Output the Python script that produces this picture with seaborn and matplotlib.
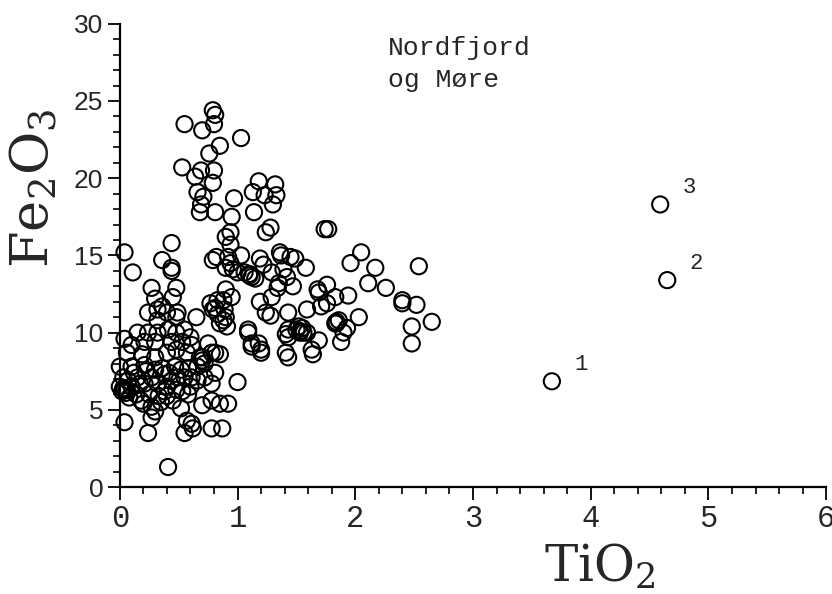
import matplotlib
matplotlib.use("Agg")
import matplotlib.pyplot as plt
import seaborn as sns
from matplotlib.ticker import MultipleLocator

# TiO2 / Fe2O3 values (wt %)
upper_tio2 = [0.79, 0.81, 0.55, 0.70, 0.80, 1.03, 0.85, 0.76, 0.53, 0.64, 0.69, 0.80,
              0.79, 0.66, 0.71, 0.69, 0.81, 0.68, 0.97, 1.18, 1.32, 1.13, 1.23, 1.33,
              1.30, 1.14, 0.95, 0.94, 1.28, 1.24, 1.74, 1.77]
upper_fe2o3 = [24.4, 24.1, 23.5, 23.1, 23.5, 22.6, 22.1, 21.6, 20.7, 20.1, 20.5, 20.5,
               19.7, 19.1, 18.8, 18.3, 17.8, 17.8, 18.7, 19.8, 19.6, 19.1, 18.9, 18.9,
               18.3, 17.8, 17.5, 16.5, 16.8, 16.5, 16.7, 16.7]

mid_tio2 = [2.05, 1.96, 2.54, 2.17, 2.11, 2.26, 2.40, 2.40, 2.52, 2.65, 2.48, 2.48,
            0.90, 0.94, 1.37, 1.45, 1.49, 1.58, 1.19, 1.22, 1.03, 0.96, 1.00, 1.06,
            1.12, 1.15, 1.29, 1.39, 1.42, 1.35, 0.90, 0.90, 0.95, 0.88, 0.90, 0.85,
            1.19, 1.29, 1.24, 1.28, 1.43, 1.59, 1.69, 1.76, 1.71, 1.83, 1.94, 2.03,
            1.83, 1.86, 1.93, 1.90, 1.88, 1.76, 1.09, 1.12, 1.18, 1.20, 1.43, 1.50,
            1.56, 1.59, 1.69, 1.43, 1.63, 1.41, 1.53, 1.53, 1.84, 1.84, 1.10, 1.10,
            1.52, 1.41, 1.64, 1.43, 1.68, 1.36, 1.12, 1.20, 1.09, 1.55, 1.34, 1.47]
mid_fe2o3 = [15.2, 14.5, 14.3, 14.2, 13.2, 12.9, 12.1, 11.9, 11.8, 10.7, 10.4, 9.3,
             16.2, 15.7, 15.0, 14.9, 14.8, 14.2, 14.8, 14.4, 15.0, 14.1, 13.9, 13.9,
             13.6, 13.5, 13.9, 14.1, 13.6, 13.2, 14.2, 12.8, 12.3, 12.1, 11.0, 10.6,
             12.0, 12.3, 11.3, 11.1, 11.3, 11.5, 12.6, 13.1, 11.7, 12.3, 12.4, 11.0,
             10.6, 10.8, 10.3, 10.0, 9.4, 11.9, 10.0, 9.3, 9.3, 8.9, 10.2, 10.2,
             10.0, 10.0, 9.5, 9.7, 8.9, 8.7, 10.0, 10.1, 10.7, 10.6, 13.7, 13.8,
             10.4, 9.9, 8.6, 8.4, 12.8, 15.2, 9.1, 8.7, 10.2, 10.3, 12.9, 13.0]

low_tio2 = [0.04, 0.11, 0.44, 0.36, 0.44, 0.44, 0.27, 0.48, 0.30, 0.45, 0.24, 0.32,
            0.36, 0.40, 0.49, 0.65, 0.48, 0.32, 0.77, 0.81, 0.83, 0.83, 0.89, 0.79,
            0.88, 0.91, 0.82, 0.79, 0.92, 0.94,
            0.04, 0.15, 0.24, 0.32, 0.41, 0.48, 0.55, 0.60, 0.10, 0.21, 0.30, 0.44,
            0.53, 0.61, 0.48, 0.40, 0.57, 0.06, 0.19, 0.30, 0.70, 0.78, 0.85, 0.00,
            0.10, 0.21, 0.36, 0.47, 0.58, 0.66, 0.03, 0.15, 0.27, 0.38, 0.49, 0.61,
            0.72, 0.81, 0.75, 0.81, 0.68, 0.70, 0.72,
            0.78, 1.00, 0.04, 0.00, 0.02, 0.05, 0.10, 0.21, 0.32, 0.44, 0.55, 0.53,
            0.58, 0.70, 0.78, 0.85, 0.92, 0.45, 0.20, 0.27, 0.30, 0.27, 0.04, 0.57,
            0.61, 0.62, 0.55, 0.78, 0.87, 0.24, 0.41,
            0.08, 0.14, 0.18, 0.25, 0.33, 0.38, 0.12, 0.22, 0.30, 0.42, 0.52, 0.07,
            0.17, 0.40, 0.48, 0.35, 0.60, 0.66, 0.52, 0.40, 0.03, 0.06]
low_fe2o3 = [15.2, 13.9, 15.8, 14.7, 14.2, 14.0, 12.9, 12.9, 12.2, 12.3, 11.3, 11.5,
             11.7, 11.3, 11.3, 11.0, 11.0, 10.8, 11.9, 11.6, 11.2, 12.1, 11.5, 11.5,
             10.8, 10.4, 14.9, 14.7, 14.9, 14.5,
             9.6, 10.0, 10.0, 10.0, 10.2, 10.0, 10.2, 9.7, 9.2, 9.4, 9.4, 9.4,
             9.4, 9.2, 8.9, 8.7, 8.7, 8.7, 8.6, 8.4, 8.4, 8.7, 8.6, 7.8,
             7.8, 7.9, 7.7, 7.8, 7.7, 7.8, 7.1, 7.1, 7.1, 7.3, 7.1, 7.1,
             7.1, 7.4, 9.3, 8.7, 8.4, 8.2, 8.0,
             6.7, 6.8, 6.3, 6.5, 6.2, 6.1, 6.5, 6.7, 6.7, 6.9, 7.1, 6.2,
             6.0, 5.3, 5.6, 5.4, 5.4, 5.6, 5.4, 5.2, 4.9, 4.5, 4.2, 4.3,
             4.1, 3.8, 3.5, 3.8, 3.8, 3.5, 1.3,
             5.8, 6.0, 5.6, 6.0, 5.9, 6.2, 7.4, 7.5, 7.6, 7.4, 7.6, 6.9,
             6.7, 6.5, 6.3, 5.5, 6.5, 6.9, 5.1, 5.9, 6.4, 6.3]

# numbered outliers
out_tio2 = [3.67, 4.65, 4.59]
out_fe2o3 = [6.85, 13.4, 18.3]
out_labels = ["1", "2", "3"]

tio2 = upper_tio2 + mid_tio2 + low_tio2 + out_tio2
fe2o3 = upper_fe2o3 + mid_fe2o3 + low_fe2o3 + out_fe2o3

sns.set_style("ticks")
plt.rcParams["mathtext.fontset"] = "dejavuserif"
plt.rcParams["mathtext.default"] = "rm"

fig, ax = plt.subplots(figsize=(8.32, 5.94), dpi=100)
fig.subplots_adjust(left=0.144, right=0.993, bottom=0.180, top=0.960)

sns.scatterplot(x=tio2, y=fe2o3, ax=ax, marker="o", s=135,
                facecolors="none", edgecolor="black", linewidth=1.5,
                clip_on=False, zorder=3)

for xv, yv, lab in zip(out_tio2, out_fe2o3, out_labels):
    ax.annotate(lab, (xv, yv), xytext=(16, 8), textcoords="offset points",
                fontsize=16, family="Liberation Mono")

ax.text(2.28, 28.0, "Nordfjord", fontsize=19, family="Liberation Mono")
ax.text(2.28, 25.9, "og M\u00f8re", fontsize=19, family="Liberation Mono")

ax.set_xlim(0, 6)
ax.set_ylim(0, 30)
ax.xaxis.set_major_locator(MultipleLocator(1))
ax.xaxis.set_minor_locator(MultipleLocator(0.2))
ax.yaxis.set_major_locator(MultipleLocator(5))
ax.yaxis.set_minor_locator(MultipleLocator(1))
ax.tick_params(which="major", direction="out", length=9, width=1.3, color="black")
ax.tick_params(which="minor", direction="out", length=5, width=1.2, color="black")
ax.tick_params(axis="x", labelsize=22, pad=3)
ax.tick_params(axis="y", labelsize=19, pad=3)
for t in ax.get_xticklabels():
    t.set_family("Liberation Mono")
for t in ax.get_yticklabels():
    t.set_family("Liberation Sans")

sns.despine(ax=ax)
for sp in ("left", "bottom"):
    ax.spines[sp].set_linewidth(1.6)
    ax.spines[sp].set_color("black")

ax.set_xlabel(r"TiO$_2$", fontsize=36, family="DejaVu Serif")
ax.xaxis.set_label_coords(0.68, -0.12, transform=ax.transAxes)
ax.set_ylabel(r"Fe$_2$O$_3$", fontsize=38, family="DejaVu Serif")
ax.yaxis.set_label_coords(-0.085, 0.645, transform=ax.transAxes)

fig.savefig("out.png", dpi=100)
